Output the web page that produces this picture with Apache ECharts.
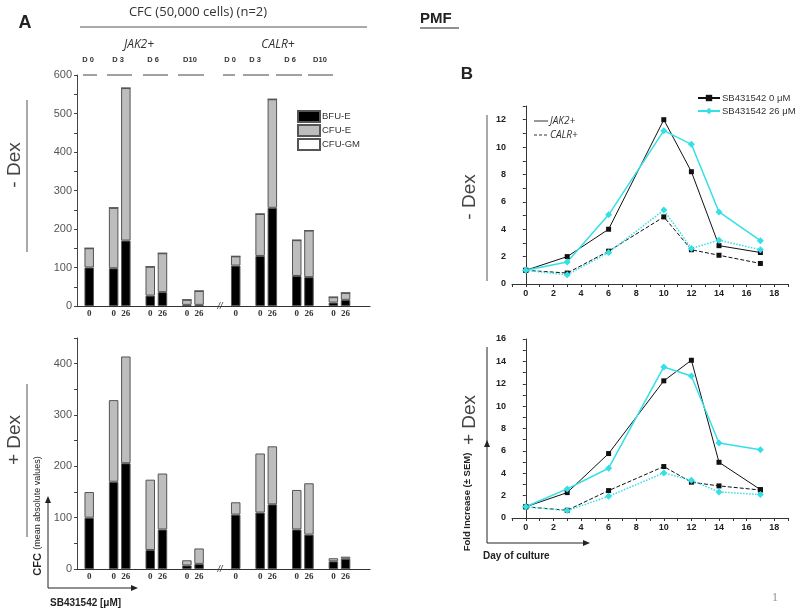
<!DOCTYPE html>
<html><head><meta charset="utf-8">
<script src="https://cdn.jsdelivr.net/npm/echarts@6/dist/echarts.min.js"></script>
<style>html,body{margin:0;padding:0;background:#fff}#c{width:800px;height:610px}</style>
</head><body><div id="c"></div>
<script>
// ---- Panel A data (CFC, mean absolute values) ----
const barLabels = ['0','0','26','0','26','0','26','0','0','26','0','26','0','26'];
const topBFU  = [100, 98, 170, 27, 36, 3, 3, 105, 130, 255, 78, 75, 9, 16];
const topCFUE = [50, 157, 396, 75, 101, 13, 36, 24, 109, 282, 93, 121, 14, 18];
const botBFU  = [100, 170, 206, 37, 77, 7, 10, 106, 110, 126, 77, 67, 15, 20];
const botCFUE = [50, 159, 208, 137, 109, 10, 30, 24, 115, 113, 77, 100, 6, 4];
const yTicksTop = [0, 100, 200, 300, 400, 500, 600];
const yTicksBot = [0, 100, 200, 300, 400];
// ---- Panel B data (fold increase) ----
const days = [0, 3, 6, 10, 12, 14, 17];
const mDexJAK2_0  = [1, 2.0, 4.0, 12.0, 8.2, 2.8, 2.3];
const mDexJAK2_26 = [1, 1.6, 5.05, 11.2, 10.2, 5.26, 3.16];
const mDexCALR_0  = [1, 0.8, 2.4, 4.9, 2.5, 2.1, 1.5];
const mDexCALR_26 = [1, 0.67, 2.3, 5.4, 2.6, 3.2, 2.5];
const pDexJAK2_0  = [1, 2.27, 5.76, 12.26, 14.1, 4.98, 2.54];
const pDexJAK2_26 = [1, 2.6, 4.45, 13.5, 12.7, 6.7, 6.1];
const pDexCALR_0  = [1, 0.69, 2.45, 4.6, 3.2, 2.87, 2.5];
const pDexCALR_26 = [1, 0.66, 1.94, 4.03, 3.37, 2.33, 2.09];

// layout: slot of each bar on the category axis (gaps between day groups)
const slotIdx = [1, 3, 4, 6, 7, 9, 10, 13, 15, 16, 18, 19, 21, 22];
const nSlots = 25;
const cats = Array.from({length: nSlots}, () => '');
slotIdx.forEach((s, i) => cats[s] = barLabels[i]);
function toSlots(arr) {
  const out = Array.from({length: nSlots}, () => '-');
  slotIdx.forEach((s, i) => out[s] = arr[i]);
  return out;
}
const pairs = (ys) => days.map((d, i) => [d, ys[i]]);

const BLACK = '#111', CYAN = '#35dfe6';
const chart = echarts.init(document.getElementById('c'));

function barX(idx) {
  return {type: 'category', gridIndex: idx, data: cats, boundaryGap: false,
    axisLine: {lineStyle: {color: '#333', width: 1.2}}, axisTick: {show: false},
    axisLabel: {interval: 0, fontSize: 9, fontFamily: 'Liberation Serif', fontWeight: 'bold', color: '#333', margin: 3}};
}
function barY(idx, max, ticks) {
  return {type: 'value', gridIndex: idx, min: 0, max: max, interval: 50,
    axisLine: {show: true, lineStyle: {color: '#444', width: 1}},
    axisTick: {show: true, length: 3, lineStyle: {color: '#444'}},
    splitLine: {show: false},
    axisLabel: {fontSize: 11, color: '#555', fontFamily: 'Liberation Sans', margin: 5,
      formatter: v => ticks.includes(v) ? String(v) : ''}};
}
function lineX(idx) {
  return {type: 'value', gridIndex: idx, min: -1, max: 19, interval: 1,
    axisLine: {onZero: false, lineStyle: {color: '#333', width: 1}},
    axisTick: {length: 3, lineStyle: {color: '#333'}},
    splitLine: {show: false},
    axisLabel: {fontSize: 9, fontWeight: 'bold', color: '#222', fontFamily: 'Liberation Sans', margin: 5,
      formatter: v => (v >= 0 && v <= 18 && v % 2 === 0) ? String(v) : ''}};
}
function lineY(idx, max) {
  return {type: 'value', gridIndex: idx, min: 0, max: max, interval: 1,
    axisLine: {show: true, lineStyle: {color: '#333', width: 1}},
    axisTick: {length: 3, lineStyle: {color: '#333'}},
    splitLine: {show: false},
    axisLabel: {fontSize: 9, fontWeight: 'bold', color: '#222', fontFamily: 'Liberation Sans', margin: 6,
      formatter: v => (v % 2 === 0) ? String(v) : ''}};
}
function barSeries(name, idx, data, color) {
  return {type: 'bar', name: name, xAxisIndex: idx, yAxisIndex: idx, stack: 's' + idx,
    data: toSlots(data), barWidth: 9.5, silent: true,
    itemStyle: {color: color, borderColor: '#555', borderWidth: 1}};
}
function lineSeries(name, idx, ys, color, type, symbol, size, width) {
  return {type: 'line', name: name, xAxisIndex: idx, yAxisIndex: idx, data: pairs(ys),
    symbol: symbol, symbolSize: size, silent: true,
    lineStyle: {color: color, width: width, type: type},
    itemStyle: {color: color}};
}
const N0 = 'SB431542 0 μM', N26 = 'SB431542 26 μM';
const txt = (x, y, text, font, extra) => Object.assign({type: 'text', x: x, y: y,
  style: Object.assign({text: text, font: font, fill: '#333', align: 'center', verticalAlign: 'middle'}, extra || {})});
const rtxt = (x, y, text, font, extra) => Object.assign(txt(x, y, text, font, extra), {rotation: Math.PI / 2});
const ln = (x1, y1, x2, y2, extra) => ({type: 'line', shape: {x1, y1, x2, y2},
  style: Object.assign({stroke: '#555', lineWidth: 1}, extra || {})});
const head = (pts) => ({type: 'polygon', shape: {points: pts}, style: {fill: '#222'}});

const graphics = [
  txt(25, 23, 'A', 'bold 18px Liberation Sans', {fill: '#222'}),
  txt(198, 12, 'CFC (50,000 cells) (n=2)', '13px Open Sans'),
  ln(80, 27, 367, 27),
  txt(139, 45, 'JAK2+', 'italic 12px Open Sans'),
  txt(278, 45, 'CALR+', 'italic 12px Open Sans'),
  ...[[88,'D 0'],[118,'D 3'],[153,'D 6'],[190,'D10'],[230,'D 0'],[255,'D 3'],[290,'D 6'],[320,'D10']]
     .map(d => txt(d[0], 60, d[1], 'bold 7.5px Liberation Sans')),
  ...[[83,97],[107,132],[143,168],[178,204],[223,235],[243,269],[276,302],[308,333]]
     .map(s => ln(s[0], 75, s[1], 75, {stroke: '#444'})),
  rtxt(15, 165, '- Dex', '19px Liberation Sans', {fill: '#444'}),
  ln(27, 100, 27, 252),
  rtxt(15, 440, '+ Dex', '19px Liberation Sans', {fill: '#444'}),
  ln(27, 384, 27, 537),
  {type: 'text', x: 38, y: 516, rotation: Math.PI / 2,
   style: {text: '{b|CFC} {s|(mean absolute values)}', align: 'center', verticalAlign: 'middle',
     rich: {b: {font: 'bold 11px Liberation Sans', fill: '#222'}, s: {font: '9px Liberation Sans', fill: '#222'}}}},
  ln(48, 588, 48, 502, {stroke: '#222'}), head([[48,496],[45,503],[51,503]]),
  ln(48, 588, 132, 588, {stroke: '#222'}), head([[138,588],[131,585],[131,591]]),
  txt(50, 603, 'SB431542 [μM]', 'bold 10px Liberation Sans', {align: 'left', fill: '#222'}),
  txt(220, 306, '//', 'italic 9px Liberation Sans', {fill: '#333'}),
  txt(220, 569, '//', 'italic 9px Liberation Sans', {fill: '#333'}),
  txt(420, 19, 'PMF', 'bold 15px Liberation Sans', {align: 'left', fill: '#222'}),
  ln(420, 28, 459, 28, {stroke: '#222', lineWidth: 1.2}),
  txt(467, 74, 'B', 'bold 17px Liberation Sans', {fill: '#222'}),
  rtxt(470, 197, '- Dex', '19px Liberation Sans', {fill: '#444'}),
  ln(487, 115, 487, 281),
  rtxt(470, 420, '+ Dex', '19px Liberation Sans', {fill: '#444'}),
  ln(487, 347, 487, 449, {stroke: '#222'}),
  head([[487,440],[484,447],[490,447]]),
  ln(487, 449, 487, 543, {stroke: '#222'}),
  rtxt(467, 502, 'Fold Increase (± SEM)', 'bold 9.5px Liberation Sans', {fill: '#222'}),
  ln(487, 543, 584, 543, {stroke: '#222'}), head([[590,543],[583,540],[583,546]]),
  txt(483, 556, 'Day of culture', 'bold 10px Liberation Sans', {align: 'left', fill: '#222'}),
  ln(534, 121, 548, 121, {stroke: '#333'}),
  txt(550, 121, 'JAK2+', 'italic 10px Open Sans', {align: 'left'}),
  ln(534, 135, 548, 135, {stroke: '#333', lineDash: [3, 2]}),
  txt(550, 135, 'CALR+', 'italic 10px Open Sans', {align: 'left'}),
  txt(775, 598, '1', '13px Liberation Serif', {fill: '#999'})
];

chart.setOption({
  animation: false,
  backgroundColor: '#fff',
  grid: [
    {left: 77, width: 293, top: 75, height: 231},
    {left: 77, width: 293, top: 338, height: 231},
    {left: 512, right: 12, top: 106, bottom: 326},
    {left: 512, right: 12, top: 339, bottom: 92}
  ],
  xAxis: [barX(0), barX(1), lineX(2), lineX(3)],
  yAxis: [barY(0, 600, yTicksTop), barY(1, 450, yTicksBot), lineY(2, 13), lineY(3, 16)],
  legend: [
    {data: ['BFU-E', 'CFU-E', 'CFU-GM'].map(n => ({name: n, icon: 'rect'})), orient: 'vertical', left: 297, top: 110,
     itemWidth: 22, itemHeight: 11, itemGap: 1, padding: 0, selectedMode: false,
     textStyle: {fontSize: 9.5, color: '#333', fontFamily: 'Liberation Sans', padding: [0, 0, 0, -3]}},
    {data: [N0, N26], orient: 'vertical', left: 697, top: 93, itemWidth: 22, itemHeight: 8,
     itemGap: 3, padding: 0, selectedMode: false,
     textStyle: {fontSize: 9.5, color: '#333', fontFamily: 'Liberation Sans', padding: [0, 0, 0, -3]}}
  ],
  series: [
    barSeries('BFU-E', 0, topBFU, '#000'),
    barSeries('CFU-E', 0, topCFUE, '#bdbdbd'),
    barSeries('CFU-GM', 0, topBFU.map(() => 0), '#fff'),
    barSeries('BFU-E', 1, botBFU, '#000'),
    barSeries('CFU-E', 1, botCFUE, '#bdbdbd'),
    lineSeries(N0, 2, mDexJAK2_0, BLACK, 'solid', 'rect', 5, 1),
    lineSeries(N26, 2, mDexJAK2_26, CYAN, 'solid', 'diamond', 7, 1.5),
    lineSeries(N0, 2, mDexCALR_0, BLACK, 'dashed', 'rect', 5, 1),
    lineSeries(N26, 2, mDexCALR_26, CYAN, 'dotted', 'diamond', 7, 1.5),
    lineSeries(N0, 3, pDexJAK2_0, BLACK, 'solid', 'rect', 5, 1),
    lineSeries(N26, 3, pDexJAK2_26, CYAN, 'solid', 'diamond', 7, 1.5),
    lineSeries(N0, 3, pDexCALR_0, BLACK, 'dashed', 'rect', 5, 1),
    lineSeries(N26, 3, pDexCALR_26, CYAN, 'dotted', 'diamond', 7, 1.5)
  ],
  graphic: graphics
});
</script></body></html>
